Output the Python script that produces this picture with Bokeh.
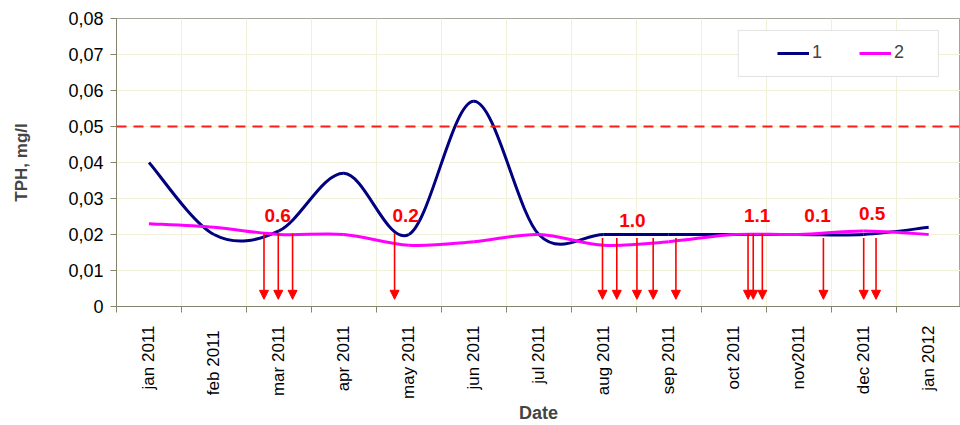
import numpy as np
from bokeh.plotting import figure
from bokeh.models import (ColumnDataSource, FixedTicker, Span, Arrow, NormalHead,
                          Legend, LegendItem, BoxAnnotation, Range1d)
from bokeh.core.properties import value
from bokeh.embed import file_html
from bokeh.resources import INLINE

# ---- data -----------------------------------------------------------------
months = ["jan 2011", "feb  2011", "mar 2011", "apr 2011", "may 2011", "jun 2011",
          "jul 2011", "aug 2011", "sep 2011", "oct 2011", "nov2011", "dec 2011",
          "jan 2012"]
series_1 = [0.040, 0.020, 0.021, 0.037, 0.020, 0.057, 0.020,
            0.020, 0.020, 0.020, 0.020, 0.020, 0.022]
series_2 = [0.023, 0.022, 0.020, 0.020, 0.017, 0.018, 0.020,
            0.017, 0.018, 0.020, 0.020, 0.021, 0.020]
limit_value = 0.05

y_ticks = [0, 0.01, 0.02, 0.03, 0.04, 0.05, 0.06, 0.07, 0.08]
y_tick_labels = ["0", "0,01", "0,02", "0,03", "0,04", "0,05", "0,06", "0,07", "0,08"]

# event markers (position along the month axis, top and bottom of each arrow)
arrow_x = [1.77, 1.99, 2.21, 3.78, 6.98, 7.20, 7.51, 7.76, 8.11,
           9.22, 9.30, 9.44, 10.38, 11.00, 11.19]
arrow_top = [0.0203, 0.0203, 0.0203, 0.0204, 0.019, 0.019, 0.019, 0.019, 0.019,
             0.0203, 0.0203, 0.0203, 0.019, 0.019, 0.019]
arrow_bottom = [0.002] * len(arrow_x)

# event annotations
note_x = [1.98, 3.95, 7.44, 9.36, 10.29, 11.13]
note_y = [0.0253, 0.0253, 0.0239, 0.0253, 0.0253, 0.0258]
note_text = ["0.6", "0.2", "1.0", "1.1", "0.1", "0.5"]

FONT = "Liberation Sans"
NAVY = "#000080"
MAGENTA = "#ff00ff"
GRID = "#f1f1da"
AXIS = "#85856f"

x_pos = list(range(len(months)))
boundaries = [i - 0.5 for i in range(len(months) + 1)]


def smooth_segments(xs, ys, t=1.0 / 6.0):
    """Cubic Bezier segments (Catmull-Rom style control points) through the points."""
    xs = np.asarray(xs, dtype=float)
    ys = np.asarray(ys, dtype=float)
    xp = np.concatenate([[xs[0]], xs, [xs[-1]]])
    yp = np.concatenate([[ys[0]], ys, [ys[-1]]])
    tx = xp[2:] - xp[:-2]
    ty = yp[2:] - yp[:-2]
    return ColumnDataSource(dict(
        x0=xs[:-1], y0=ys[:-1], x1=xs[1:], y1=ys[1:],
        cx0=xs[:-1] + t * tx[:-1], cy0=ys[:-1] + t * ty[:-1],
        cx1=xs[1:] - t * tx[1:], cy1=ys[1:] - t * ty[1:],
    ))


p = figure(width=960, height=425,
           x_range=Range1d(-0.5, 12.49), y_range=Range1d(0, 0.08),
           output_backend="svg", toolbar_location=None,
           min_border_left=116, min_border_right=0,
           min_border_top=18, min_border_bottom=119)
p.outline_line_color = "#a5a5a0"
p.background_fill_color = "white"
p.border_fill_color = "white"

# grid
p.xgrid.ticker = FixedTicker(ticks=boundaries)
p.ygrid.ticker = FixedTicker(ticks=y_ticks)
p.xgrid.grid_line_color = GRID
p.ygrid.grid_line_color = GRID

# y axis
yax = p.yaxis[0]
yax.ticker = FixedTicker(ticks=y_ticks)
yax.major_label_overrides = dict(zip(y_ticks, y_tick_labels))
yax.axis_line_color = AXIS
yax.major_tick_line_color = AXIS
yax.major_tick_out = 6
yax.major_tick_in = 0
yax.minor_tick_line_color = None
yax.major_label_standoff = 7
yax.major_label_text_font = FONT
yax.major_label_text_font_size = "18px"
yax.major_label_text_color = "black"
yax.axis_label = "TPH, mg/l"
yax.axis_label_text_font = FONT
yax.axis_label_text_font_style = "bold"
yax.axis_label_text_font_size = "17px"
yax.axis_label_standoff = 34

# x axis: labels at month centres, tick marks on month boundaries
xax = p.xaxis[0]
xax.ticker = FixedTicker(ticks=x_pos, minor_ticks=boundaries)
xax.major_label_overrides = dict(zip(x_pos, months))
xax.major_label_orientation = np.pi / 2
xax.axis_line_color = AXIS
xax.major_tick_line_color = None
xax.major_tick_out = 0
xax.major_tick_in = 0
xax.minor_tick_line_color = AXIS
xax.minor_tick_out = 6
xax.minor_tick_in = 0
xax.major_label_standoff = 13
xax.major_label_text_font = FONT
xax.major_label_text_font_size = "17px"
xax.major_label_text_color = "black"
xax.axis_label = "Date"
xax.axis_label_text_font = FONT
xax.axis_label_text_font_style = "bold"
xax.axis_label_text_font_size = "18px"
xax.axis_label_standoff = 1

# limit line
p.add_layout(Span(location=limit_value, dimension="width", line_color="#ff1a1a",
                  line_width=2, line_dash="10 7"))

# smoothed series
r1 = p.bezier(x0="x0", y0="y0", x1="x1", y1="y1", cx0="cx0", cy0="cy0",
              cx1="cx1", cy1="cy1", source=smooth_segments(x_pos, series_1),
              line_color=NAVY, line_width=3)
r2 = p.bezier(x0="x0", y0="y0", x1="x1", y1="y1", cx0="cx0", cy0="cy0",
              cx1="cx1", cy1="cy1", source=smooth_segments(x_pos, series_2),
              line_color=MAGENTA, line_width=3)

# event arrows
arrow_src = ColumnDataSource(dict(x=arrow_x, top=arrow_top, bottom=arrow_bottom))
p.add_layout(Arrow(end=NormalHead(size=9, fill_color="#ff0000", line_color="#ff0000"),
                   x_start="x", y_start="top", x_end="x", y_end="bottom",
                   source=arrow_src, line_color="#ff0000", line_width=1.6))

p.text(x=note_x, y=note_y, text=note_text, text_color="#ff0000",
       text_font=value(FONT), text_font_style="bold", text_font_size="19px",
       text_align="center", text_baseline="middle")

# legend frame and legend
p.add_layout(BoxAnnotation(left=9.07, right=12.15, bottom=0.0639, top=0.0767,
                           fill_color="white", fill_alpha=1.0,
                           line_color="#a0a0a0", line_width=1))
legend = Legend(items=[LegendItem(label="1", renderers=[r1]),
                       LegendItem(label="2", renderers=[r2])],
                orientation="horizontal", location=(661, 243),
                border_line_color=None, background_fill_alpha=0.0,
                padding=0, margin=0, spacing=27,
                glyph_width=32, glyph_height=20, label_width=20, label_height=20,
                label_standoff=3, label_text_font=FONT, label_text_font_size="18px")
p.add_layout(legend)

open("out.html", "w").write(file_html(p, INLINE))
